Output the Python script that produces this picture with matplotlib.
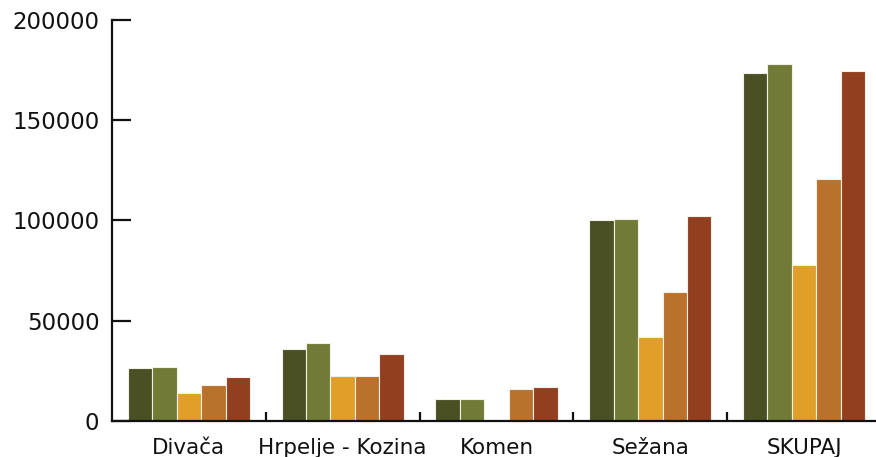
import matplotlib
matplotlib.use("Agg")
import matplotlib.pyplot as plt
import numpy as np

# categories and series
kategorije = ["Divača", "Hrpelje - Kozina", "Komen", "Sežana", "SKUPAJ"]
serija1 = [26300, 35800, 11000, 100400, 173400]
serija2 = [26900, 38900, 11000, 100900, 177900]
serija3 = [13800, 22300, 0, 41900, 77800]
serija4 = [18000, 22300, 15800, 64300, 120500]
serija5 = [21900, 33400, 16800, 102400, 174400]
serije = [serija1, serija2, serija3, serija4, serija5]
barve = ["#4a5023", "#717b35", "#e09f28", "#b9722b", "#923f20"]

plt.rcParams["font.family"] = ["DejaVu Sans"]

fig = plt.figure(figsize=(8.76, 4.57), dpi=100)
ax = fig.add_axes([112 / 876, 1 - 421 / 457, 769 / 876, 401 / 457])

x = np.arange(len(kategorije))
sirina = 0.159
for i, (vrednosti, barva) in enumerate(zip(serije, barve)):
    ax.bar(x + (i - 2) * sirina, vrednosti, sirina, color=barva,
           edgecolor="#f2efe6", linewidth=0.8)

ax.set_xlim(-0.5, len(kategorije) - 0.5)
ax.set_ylim(0, 200000)
ax.set_yticks([0, 50000, 100000, 150000, 200000])
ax.set_xticks(x)
ax.set_xticklabels(kategorije)
ax.set_xticks(np.arange(len(kategorije)) + 0.5, minor=True)

for s in ["top", "right"]:
    ax.spines[s].set_visible(False)
for s in ["left", "bottom"]:
    ax.spines[s].set_linewidth(1.6)
    ax.spines[s].set_color("#111111")

ax.tick_params(axis="y", direction="in", length=14, width=1.6, pad=9,
               labelsize=16.5, colors="#111111")
ax.tick_params(axis="x", which="major", length=0, pad=12, labelsize=15.5,
               colors="#111111")
ax.tick_params(axis="x", which="minor", direction="in", length=6.5, width=1.6,
               colors="#111111")

fig.savefig("out.png", dpi=100)
